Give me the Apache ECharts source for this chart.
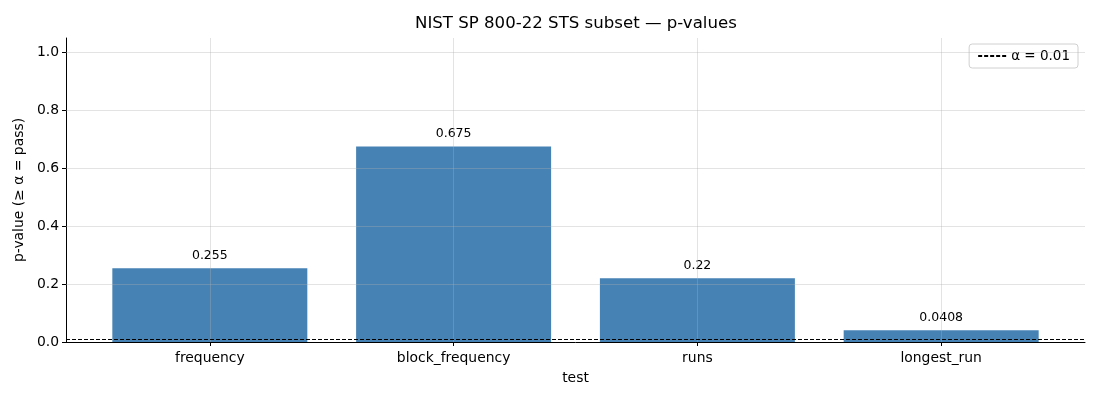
<!DOCTYPE html>
<html>
<head>
<meta charset="utf-8">
<script src="https://cdn.jsdelivr.net/npm/echarts@6/dist/echarts.min.js"></script>
<style>
  html, body { margin: 0; padding: 0; background: #fff; }
  #chart { width: 1100px; height: 400px; }
</style>
</head>
<body>
<div id="chart"></div>
<script>
// data
var categories = ['frequency', 'block_frequency', 'runs', 'longest_run'];
var pValues = [0.255, 0.675, 0.22, 0.0408];
var valueLabels = ['0.255', '0.675', '0.22', '0.0408'];
var alpha = 0.01;
var yTicks = [0, 0.2, 0.4, 0.6, 0.8, 1.0];

var FONT = 'DejaVu Sans';
var GRID_COLOR = 'rgba(176,176,176,0.35)';

var chart = echarts.init(document.getElementById('chart'), null, { renderer: 'canvas' });

var barData = [];
for (var i = 0; i < pValues.length; i++) {
	barData.push([i, pValues[i]]);
}

// grid lines on top of bars, like matplotlib
var gridLines = [];
for (var i = 0; i < categories.length; i++) {
	gridLines.push({ xAxis: i });
}
for (var j = 1; j < yTicks.length; j++) {
	gridLines.push({ yAxis: yTicks[j] });
}

var option = {
	animation: false,
	title: {
		text: 'NIST SP 800-22 STS subset — p-values',
		left: 410,
		top: 10,
		textStyle: { fontFamily: FONT, fontSize: 16.6, fontWeight: 'normal', color: '#000' }
	},
	legend: {
		right: 22,
		top: 44,
		padding: [5, 8, 5, 8],
		borderColor: '#d0d0d0',
		borderWidth: 1,
		borderRadius: 3,
		itemWidth: 28,
		itemHeight: 10,
		itemGap: 6,
		itemStyle: { opacity: 0 },
		textStyle: { fontFamily: FONT, fontSize: 13.5, color: '#000' },
		data: ['α = 0.01']
	},
	grid: { left: 66, right: 15, top: 38, bottom: 58 },
	xAxis: {
		type: 'value',
		min: -0.59,
		max: 3.59,
		name: 'test',
		nameLocation: 'middle',
		nameGap: 29,
		nameTextStyle: { fontFamily: FONT, fontSize: 13.9, color: '#000' },
		axisLine: { show: true, onZero: false, lineStyle: { color: '#000', width: 1 } },
		axisTick: { show: true, length: 4, lineStyle: { color: '#000' }, customValues: [0, 1, 2, 3] },
		axisLabel: {
			customValues: [0, 1, 2, 3],
			margin: 9,
			fontFamily: FONT, fontSize: 13.9, color: '#000',
			formatter: function(v) { return categories[Math.round(v)]; }
		},
		splitLine: { show: false }
	},
	yAxis: {
		type: 'value',
		min: 0,
		max: 1.05,
		interval: 0.2,
		name: 'p-value (≥ α = pass)',
		nameLocation: 'middle',
		nameGap: 39,
		nameTextStyle: { fontFamily: FONT, fontSize: 13.9, color: '#000' },
		axisLine: { show: true, onZero: false, lineStyle: { color: '#000', width: 1 } },
		axisTick: { show: true, length: 4, lineStyle: { color: '#000' } },
		axisLabel: {
			margin: 7,
			fontFamily: FONT, fontSize: 13.9, color: '#000',
			showMaxLabel: false,
			formatter: function(v) { return v.toFixed(1); }
		},
		splitLine: { show: false }
	},
	series: [
		{
			type: 'bar',
			data: barData,
			barWidth: 195,
			itemStyle: { color: '#4682b4' },
			label: {
				show: true,
				position: 'top',
				distance: 6,
				fontFamily: FONT, fontSize: 12.5, color: '#000',
				formatter: function(p) { return valueLabels[p.dataIndex]; }
			},
			z: 2
		},
		{
			type: 'line',
			name: 'grid',
			data: [],
			silent: true,
			z: 3,
			markLine: {
				silent: true,
				symbol: 'none',
				label: { show: false },
				lineStyle: { color: GRID_COLOR, type: 'solid', width: 1 },
				data: gridLines
			}
		},
		{
			type: 'line',
			name: 'α = 0.01',
			data: [],
			symbol: 'none',
			lineStyle: { color: '#000', type: [4, 2], width: 1 },
			itemStyle: { color: '#000' },
			z: 4,
			markLine: {
				silent: true,
				symbol: 'none',
				label: { show: false },
				lineStyle: { color: '#000', type: [4, 2], width: 1 },
				data: [{ yAxis: alpha }]
			}
		}
	]
};

chart.setOption(option);
</script>
</body>
</html>
